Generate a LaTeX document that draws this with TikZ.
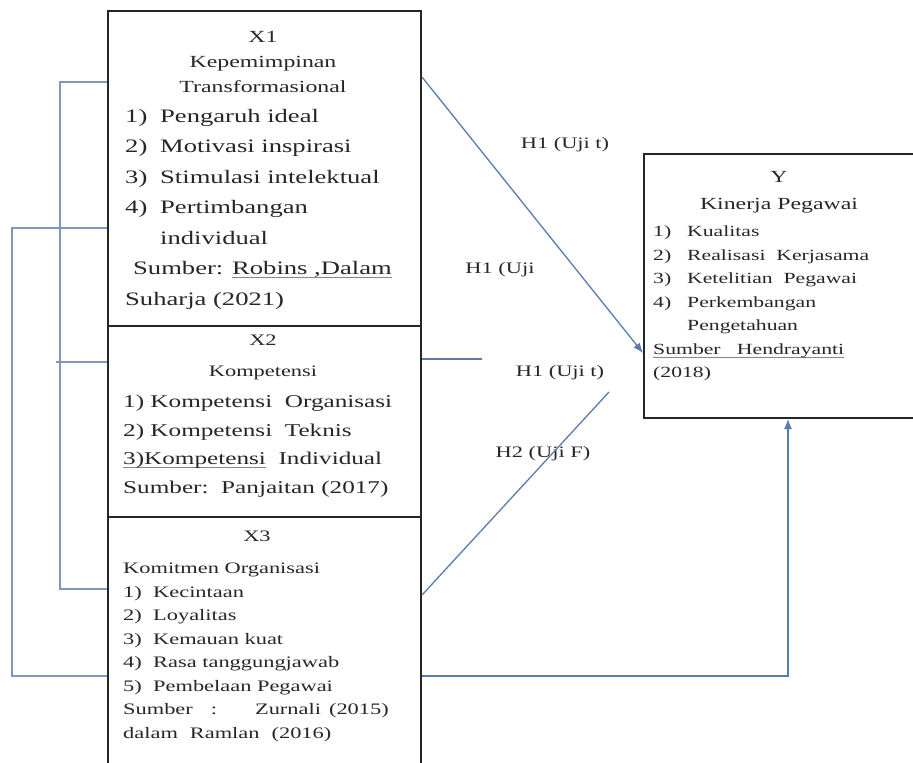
\documentclass[tikz,border=0pt]{standalone}
\usepackage{fontspec}
\setmainfont{Liberation Serif}[FakeStretch=1.4]
\usetikzlibrary{arrows.meta}
\definecolor{linkblue}{HTML}{5A7BAF}
\definecolor{tieblue}{HTML}{8097BC}
\definecolor{spellgreen}{HTML}{4CAF50}
\newsavebox\spellbox
\newcommand\spellmark[1]{\sbox\spellbox{#1}%
    \rlap{\textcolor{spellgreen}{\rule[-3.5pt]{\wd\spellbox}{1.1pt}}}\usebox\spellbox}

\begin{document}
\begin{tikzpicture}[x=1pt, y=-1pt,
        varbox/.style={draw=black!85, line width=2pt, inner sep=0pt, anchor=north west},
        headtxt/.style={anchor=north, inner sep=0pt, align=center, text=black!85},
        listtxt/.style={anchor=north west, inner sep=0pt, align=left, text=black!85},
        link/.style={draw=linkblue, line width=1.3pt},
        tie/.style={draw=tieblue, line width=1.2pt},
        hyp/.style={inner sep=0pt, text=black!85, font=\fontsize{16}{16}\selectfont},
        tip/.style={-{Latex[length=10pt,width=8pt]}}
    ]
    \useasboundingbox (0,0) rectangle (913,763);

    % variabel bebas dan terikat
    \node[varbox, minimum width=313pt, minimum height=315pt] (x1) at (107,10) {};
    \node[varbox, minimum width=313pt, minimum height=191pt] (x2) at (107,325) {};
    \node[varbox, minimum width=313pt, minimum height=265pt] (x3) at (107,516) {};
    \node[varbox, minimum width=272pt, minimum height=264pt] (yv) at (643,153) {};

    % isi kotak
    \node[headtxt, font=\fontsize{17}{25}\selectfont] (x1head) at (263,31)
        {X1\\Kepemimpinan\\Transformasional};
    \node[listtxt, font=\fontsize{19}{30.5}\selectfont] (x1list) at (125,109)
        {\makebox[35pt][l]{1)}Pengaruh ideal\\
         \makebox[35pt][l]{2)}Motivasi inspirasi\\
         \makebox[35pt][l]{3)}Stimulasi intelektual\\
         \makebox[35pt][l]{4)}Pertimbangan\\
         \hspace*{35pt}individual\\
         \hspace*{8pt}Sumber: \spellmark{Robins ,Dalam}\\
         Suharja (2021)};
    \node[headtxt, font=\fontsize{16}{31}\selectfont] (x2head) at (263,335)
        {X2\\Kompetensi};
    \node[listtxt, font=\fontsize{18}{28.5}\selectfont] (x2list) at (123,395)
        {1) Kompetensi\ \ Organisasi\\
         2) Kompetensi\ \ Teknis\\
         \spellmark{3)Kompetensi}\ \ Individual\\
         Sumber:\ \ Panjaitan (2017)};
    \node[headtxt, font=\fontsize{16}{24}\selectfont] (x3head) at (257,531) {X3};
    \node[listtxt, font=\fontsize{16}{23.5}\selectfont] (x3list) at (123,563)
        {Komitmen Organisasi\\
         \makebox[30pt][l]{1)}Kecintaan\\
         \makebox[30pt][l]{2)}Loyalitas\\
         \makebox[30pt][l]{3)}Kemauan kuat\\
         \makebox[30pt][l]{4)}Rasa tanggungjawab\\
         \makebox[30pt][l]{5)}Pembelaan Pegawai\\
         Sumber\hspace{18pt}:\hspace{38pt}Zurnali\hspace{8pt}(2015)\\
         dalam\hspace{12pt}Ramlan\hspace{12pt}(2016)};
    \node[headtxt, font=\fontsize{17}{27}\selectfont] (yhead) at (779,171)
        {Y\\Kinerja Pegawai};
    \node[listtxt, font=\fontsize{15.5}{23.5}\selectfont] (ylist) at (653,226)
        {\makebox[34pt][l]{1)}Kualitas\\
         \makebox[34pt][l]{2)}Realisasi\ \ Kerjasama\\
         \makebox[34pt][l]{3)}Ketelitian\ \ Pegawai\\
         \makebox[34pt][l]{4)}Perkembangan\\
         \hspace*{34pt}Pengetahuan\\
         \spellmark{Sumber\ \ \ Hendrayanti}\\
         (2018)};

    % hipotesis
    \node[hyp] (h1a) at (565,145) {H1 (Uji t)};
    \node[hyp] (h1b) at (500,270) {H1 (Uji};
    \node[hyp] (h1c) at (560,373) {H1 (Uji t)};
    \node[hyp] (h2) at (543,454) {H2 (Uji F)};

    \coordinate (x2end) at (482,359);
    \coordinate (x3end) at (609,392);
    \draw[link, tip] ([yshift=-67pt]x1.north east) -- ([yshift=-200pt]yv.north west);
    \draw[link] ([yshift=-34pt]x2.north east) -- (x2end);
    \draw[link] ([yshift=-79pt]x3.north east) -- (x3end);
    \draw[link, tip] ([yshift=-160pt]x3.north east) -| ([xshift=145pt]yv.south west);

    % hubungan antar variabel bebas
    \draw[tie] ([yshift=-72pt]x1.north west) -- ++(-47,0) |- ([yshift=-73pt]x3.north west);
    \draw[tie] ([yshift=-37pt]x2.north west) -- ++(-51,0);
    \draw[tie] ([yshift=-218pt]x1.north west) -- ++(-95,0) |- ([yshift=-160pt]x3.north west);
\end{tikzpicture}
\end{document}
